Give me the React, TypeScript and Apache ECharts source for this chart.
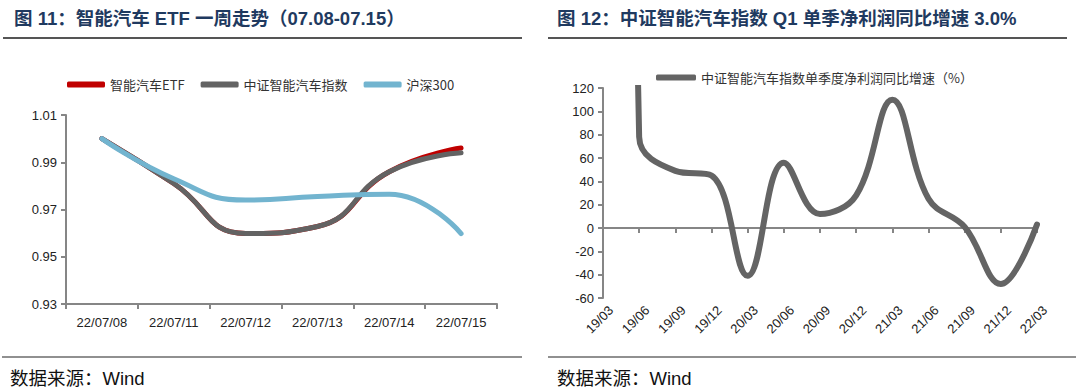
import React, { useEffect, useRef } from 'react';
import * as echarts from 'echarts';

// ---- Figure 11 data ----
const weekDates = ['22/07/08', '22/07/11', '22/07/12', '22/07/13', '22/07/14', '22/07/15'];
const etfValues = [1.0, 0.981, 0.9598, 0.9628, 0.986, 0.996];
const indexValues = [1.0, 0.981, 0.9598, 0.9628, 0.986, 0.994];
const hs300Values = [1.0, 0.983, 0.974, 0.9755, 0.9765, 0.9598];
const leftTicks = [0.93, 0.95, 0.97, 0.99, 1.01];
const leftNames = ['智能汽车ETF', '中证智能汽车指数', '沪深300'];

// ---- Figure 12 data ----
const quarters = ['19/03', '19/06', '19/09', '19/12', '20/03', '20/06', '20/09', '20/12', '21/03', '21/06', '21/09', '21/12', '22/03'];
const profitGrowth = [3000, 78, 49, 45, -41, 56, 12, 28, 110, 25, 1, -48, 3];
const rightName = '中证智能汽车指数单季度净利润同比增速（%）';

const titleLeft = '图 11：智能汽车 ETF 一周走势（07.08-07.15）';
const titleRight = '图 12：中证智能汽车指数 Q1 单季净利润同比增速 3.0%';
const sourceText = '数据来源：Wind';

const FONT = "'Liberation Sans', 'Noto Sans CJK SC', sans-serif";
const CJK = "'Noto Sans CJK SC', 'Liberation Sans', sans-serif";
const AXIS = '#868686';

export default function App() {
  const ref = useRef<HTMLDivElement>(null);
  useEffect(() => {
    if (!ref.current) return;
    const chart = echarts.init(ref.current, undefined, { renderer: 'svg' });
    const axisLine = { show: true, onZero: false, lineStyle: { color: AXIS, width: 2 } };
    const axisTick = { show: true, length: 5, lineStyle: { color: AXIS, width: 2 } };
    const labelStyle = { fontSize: 13, color: '#222', fontFamily: FONT };
    const option: any = {
      animation: false,
      backgroundColor: '#ffffff',
      graphic: [
        { type: 'text', x: 14, y: 18, style: { text: titleLeft, fontSize: 18.5, fontWeight: 'bold', fontFamily: FONT, fill: '#1F3A60', verticalAlign: 'middle' } },
        { type: 'text', x: 557, y: 18, style: { text: titleRight, fontSize: 18.5, fontWeight: 'bold', fontFamily: FONT, fill: '#1F3A60', verticalAlign: 'middle' } },
        { type: 'line', shape: { x1: 3, y1: 38, x2: 522, y2: 38 }, style: { stroke: '#555', lineWidth: 2 } },
        { type: 'line', shape: { x1: 548, y1: 38, x2: 1067, y2: 38 }, style: { stroke: '#555', lineWidth: 2 } },
        { type: 'line', shape: { x1: 2, y1: 357, x2: 522, y2: 357 }, style: { stroke: '#222', lineWidth: 1.2 } },
        { type: 'line', shape: { x1: 548, y1: 357, x2: 1076, y2: 357 }, style: { stroke: '#222', lineWidth: 1.2 } },
        { type: 'text', x: 10, y: 378, style: { text: sourceText, fontSize: 18.5, fontFamily: FONT, fill: '#111', verticalAlign: 'middle' } },
        { type: 'text', x: 557, y: 378, style: { text: sourceText, fontSize: 18.5, fontFamily: FONT, fill: '#111', verticalAlign: 'middle' } },
      ],
      legend: [
        {
          data: leftNames, left: 62, top: 73, itemWidth: 38, itemHeight: 6, itemGap: 16, icon: 'roundRect',
          textStyle: { fontSize: 13, color: '#333', fontFamily: CJK },
        },
        {
          data: [rightName], left: 651, top: 66, itemWidth: 40, itemHeight: 6, icon: 'roundRect',
          textStyle: { fontSize: 13, color: '#333', fontFamily: CJK },
        },
      ],
      grid: [
        { left: 66, top: 115, width: 431, height: 189 },
        { left: 603, top: 88, width: 434, height: 210 },
        { left: 611, top: 88, width: 434, height: 210 },
      ],
      xAxis: [
        {
          type: 'category', gridIndex: 0, data: weekDates, boundaryGap: true,
          axisLine, axisTick, axisLabel: { ...labelStyle, margin: 12, interval: 0 }, splitLine: { show: false },
        },
        {
          type: 'category', gridIndex: 1, data: quarters, boundaryGap: false,
          axisLine: { show: true, onZero: true, lineStyle: { color: AXIS, width: 2 } },
          axisTick: { ...axisTick, interval: 0 }, axisLabel: { show: false }, splitLine: { show: false },
        },
        {
          type: 'category', gridIndex: 2, data: quarters, boundaryGap: false,
          axisLine: { show: false, onZero: false }, axisTick: { show: false },
          axisLabel: { ...labelStyle, rotate: 45, interval: 0, margin: 10 }, splitLine: { show: false },
        },
      ],
      yAxis: [
        {
          type: 'value', gridIndex: 0, min: 0.93, max: 1.01,
          axisLine, axisTick: { ...axisTick, customValues: leftTicks },
          axisLabel: { ...labelStyle, margin: 9, customValues: leftTicks, formatter: (v: number) => v.toFixed(2) },
          splitLine: { show: false },
        },
        {
          type: 'value', gridIndex: 1, min: -60, max: 120, interval: 20,
          axisLine, axisTick, axisLabel: { ...labelStyle, margin: 9 }, splitLine: { show: false },
        },
        { type: 'value', gridIndex: 2, min: -60, max: 120, show: false },
      ],
      series: [
        {
          name: leftNames[0], type: 'line', xAxisIndex: 0, yAxisIndex: 0, data: etfValues, smooth: 0.5,
          showSymbol: false, itemStyle: { color: '#C00000' }, lineStyle: { color: '#C00000', width: 5, cap: 'round' },
        },
        {
          name: leftNames[1], type: 'line', xAxisIndex: 0, yAxisIndex: 0, data: indexValues, smooth: 0.5,
          showSymbol: false, itemStyle: { color: '#636363' }, lineStyle: { color: '#636363', width: 5, cap: 'round' },
        },
        {
          name: leftNames[2], type: 'line', xAxisIndex: 0, yAxisIndex: 0, data: hs300Values, smooth: 0.5,
          showSymbol: false, itemStyle: { color: '#72B4CF' }, lineStyle: { color: '#72B4CF', width: 5, cap: 'round' },
        },
        {
          name: rightName, type: 'line', xAxisIndex: 1, yAxisIndex: 1, data: profitGrowth, smooth: 0.4, clip: true,
          showSymbol: false, itemStyle: { color: '#646464' }, lineStyle: { color: '#646464', width: 6, cap: 'round' },
        },
      ],
    };
    chart.setOption(option);
    return () => chart.dispose();
  }, []);
  return <div ref={ref} style={{ position: 'absolute', left: 0, top: 0, width: 1080, height: 392, background: '#fff' }} />;
}
